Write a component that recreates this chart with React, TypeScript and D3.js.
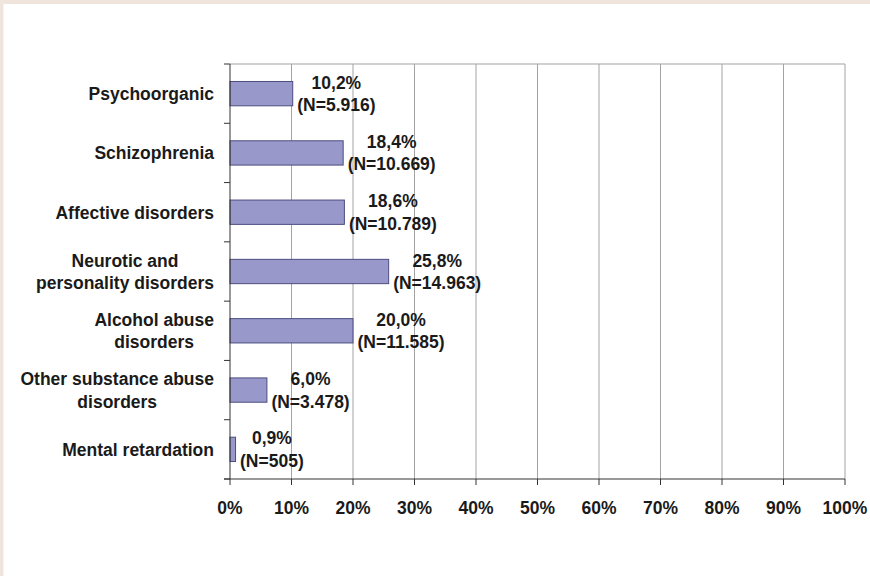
import React, { useMemo } from "react";
import * as d3 from "d3";

const categories = [
  "Psychoorganic",
  "Schizophrenia",
  "Affective disorders",
  "Neurotic and\npersonality disorders",
  "Alcohol abuse\ndisorders",
  "Other substance abuse\ndisorders",
  "Mental retardation",
];
const percents = [10.2, 18.4, 18.6, 25.8, 20.0, 6.0, 0.9];
const pctLabels = ["10,2%", "18,4%", "18,6%", "25,8%", "20,0%", "6,0%", "0,9%"];
const nLabels = ["(N=5.916)", "(N=10.669)", "(N=10.789)", "(N=14.963)", "(N=11.585)", "(N=3.478)", "(N=505)"];
const xTicks = [0, 10, 20, 30, 40, 50, 60, 70, 80, 90, 100];

const W = 870;
const H = 576;
const FONT = "'Liberation Sans', Arial, sans-serif";
const FS = 17.5;

export default function App() {
  const x = d3.scaleLinear().domain([0, 100]).range([230, 845]);
  const y = d3.scaleBand<string>().domain(categories).range([64, 479]).padding(0);
  const bh = y.bandwidth() * 0.41;

  const measure = useMemo(() => {
    const c = document.createElement("canvas");
    const ctx = c.getContext("2d")!;
    ctx.font = `bold ${FS}px 'Liberation Sans', Arial, sans-serif`;
    return (s: string) => ctx.measureText(s).width;
  }, []);

  const boundaries = categories.map((c) => y(c)!).concat([479]);
  const lineH = 22.5;

  return (
    <div style={{ position: "absolute", left: 0, top: 0 }}>
      <svg width={W} height={H} style={{ display: "block" }}>
        <rect x={0} y={0} width={W} height={H} fill="#ffffff" />
        <rect x={0} y={0} width={W} height={4} fill="#efe5dd" />
        <rect x={0} y={0} width={3.5} height={H} fill="#efe5dd" />

        {/* gridlines */}
        {xTicks.filter((t) => t > 0).map((t) => (
          <line key={"g" + t} x1={x(t)} x2={x(t)} y1={64} y2={479} stroke="#a3a3a3" strokeWidth={1} />
        ))}
        <line x1={x(0)} x2={x(100)} y1={64} y2={64} stroke="#a3a3a3" strokeWidth={1} />

        {/* bars */}
        {categories.map((c, i) => {
          const yc = y(c)! + y.bandwidth() / 2;
          return (
            <rect
              key={"b" + i}
              x={x(0)}
              y={yc - bh / 2}
              width={x(percents[i]) - x(0)}
              height={bh}
              fill="#9898cb"
              stroke="#4c4c80"
              strokeWidth={1}
            />
          );
        })}

        {/* axes */}
        <line x1={x(0)} x2={x(0)} y1={64} y2={479} stroke="#333" strokeWidth={1} />
        {boundaries.map((b, i) => (
          <line key={"yt" + i} x1={224} x2={x(0)} y1={b} y2={b} stroke="#333" strokeWidth={1} />
        ))}
        <line x1={224} x2={x(100)} y1={479} y2={479} stroke="#333" strokeWidth={1} />
        {xTicks.map((t) => (
          <line key={"xt" + t} x1={x(t)} x2={x(t)} y1={479} y2={485} stroke="#333" strokeWidth={1} />
        ))}

        {/* x tick labels */}
        {xTicks.map((t) => (
          <text
            key={"xl" + t}
            x={x(t)}
            y={514}
            textAnchor="middle"
            fontFamily={FONT}
            fontWeight="bold"
            fontSize={FS}
            fill="#1a1a1a"
          >
            {t + "%"}
          </text>
        ))}

        {/* category labels */}
        {categories.map((c, i) => {
          const lines = c.split("\n");
          const yc = y(c)! + y.bandwidth() / 2;
          const first = yc + 6.3 - ((lines.length - 1) * lineH) / 2;
          return (
            <text
              key={"cl" + i}
              textAnchor="middle"
              fontFamily={FONT}
              fontWeight="bold"
              fontSize={FS}
              fill="#1a1a1a"
            >
              {lines.map((l, j) => {
                const maxW = Math.max(...lines.map(measure));
                return (
                  <tspan key={j} x={214 - maxW / 2} y={first + j * lineH}>
                    {l}
                  </tspan>
                );
              })}
            </text>
          );
        })}

        {/* value labels */}
        {categories.map((c, i) => {
          const yc = y(c)! + y.bandwidth() / 2;
          const w = Math.max(measure(pctLabels[i]), measure(nLabels[i]));
          const cx = x(percents[i]) + 4.5 + w / 2;
          return (
            <text
              key={"vl" + i}
              textAnchor="middle"
              fontFamily={FONT}
              fontWeight="bold"
              fontSize={FS}
              fill="#1a1a1a"
            >
              <tspan x={cx} y={yc - 5}>{pctLabels[i]}</tspan>
              <tspan x={cx} y={yc + 17.5}>{nLabels[i]}</tspan>
            </text>
          );
        })}
      </svg>
    </div>
  );
}
